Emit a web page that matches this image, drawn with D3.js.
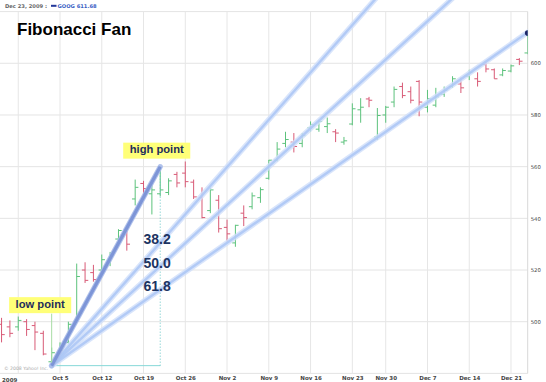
<!DOCTYPE html>
<html><head><meta charset="utf-8">
<script src="https://cdn.jsdelivr.net/npm/d3@7"></script>
<style>
html,body{margin:0;padding:0;background:#fff;}
svg{display:block;}
</style></head>
<body>
<svg id="chart" width="546" height="382"></svg>
<script>
// ---------- data ----------
const dates = ["Sep 24","Sep 25","Sep 28","Sep 29","Sep 30","Oct 1","Oct 2",
 "Oct 5","Oct 6","Oct 7","Oct 8","Oct 9","Oct 12","Oct 13","Oct 14","Oct 15","Oct 16",
 "Oct 19","Oct 20","Oct 21","Oct 22","Oct 23","Oct 26","Oct 27","Oct 28","Oct 29","Oct 30",
 "Nov 2","Nov 3","Nov 4","Nov 5","Nov 6","Nov 9","Nov 10","Nov 11","Nov 12","Nov 13",
 "Nov 16","Nov 17","Nov 18","Nov 19","Nov 20","Nov 23","Nov 24","Nov 25","Nov 27",
 "Nov 30","Dec 1","Dec 2","Dec 3","Dec 4","Dec 7","Dec 8","Dec 9","Dec 10","Dec 11",
 "Dec 14","Dec 15","Dec 16","Dec 17","Dec 18","Dec 21","Dec 22","Dec 23"];
const openP = [499,498,498,500,498.5,495.5,484.5,
 486.5,492,500,520,519,520,523,532,534.5,547.5,
 553.5,549.5,549.5,550,557,557.5,554,548,543,547,
 536.5,530.5,542,544.5,548,555.5,562.5,569,569.5,569,
 575,574.5,575.5,573.5,569.5,576.5,582,586.2,571.5,
 580,585,591,589,593,583,583.8,588,591,592,
 595,594,599.5,597.5,595.5,597,601.5,604];
const highP = [501.5,500.5,502,501,500,496.5,490,
 492,500,522.5,523,522,526,527,535.8,537,555,
 554.5,554,560,555.5,558,562,555,552,551.8,549,
 539.5,537.5,545,550,552,562.6,569.5,573.5,573,573,
 577.5,578,579,574.5,571.5,584.5,586.5,587,582.7,
 583.5,591,592.5,591,593.5,589.7,590.5,591,595,594.5,
 597.5,596.5,600.5,598,598,599.5,602,612.8];
const lowP = [492,494,496.5,494.5,489,487,483,
 485.5,491.5,499.5,515,515.5,519,521.5,530,527.5,545,
 549,541.5,548.5,549,552,552,547.5,540,542,534.5,
 531,529,537,543.5,546,555,562,567.5,565.5,567.5,
 573.5,573.5,573,569.5,568.5,576,577,583,570.3,
 577,583,586.5,584.5,579.5,581,583,587,590.5,588.5,
 593.5,591,596.5,594,595,596.5,599.3,603.5];
const closeP = [495,495.5,500.5,497,496,487.5,488,
 489,499,517.5,516,516.3,524,526,535.3,530,552,
 551.5,551,551,554.5,553.7,554.2,548.3,540.3,551,536,
 534,537.3,540.3,548.7,551.1,562.5,566.8,570.5,567.8,572,
 576.3,577.5,576.6,573,570,582.4,583,585.7,579.8,
 583,589.9,587.5,585.7,585,586.3,587,589.5,594,590.5,
 596.5,593,597.8,594,597.2,599,600.8,611.68];

const gridWeekDates = ["Sep 28","Oct 5","Oct 12","Oct 19","Oct 26","Nov 2","Nov 9","Nov 16","Nov 23","Nov 30","Dec 7","Dec 14","Dec 21"];
const xTickDates = ["Oct 5","Oct 12","Oct 19","Oct 26","Nov 2","Nov 9","Nov 16","Nov 23","Nov 30","Dec 7","Dec 14","Dec 21"];
const yearLabel = "2009";
const yGridValues = [480,500,520,540,560,580,600,620];
const yTickLabels = [500,520,540,560,580,600];
const fibLevels = [38.2, 50.0, 61.8];
const fibLabels = ["38.2","50.0","61.8"];
const lowPoint = {date:"Oct 2", price:483.0, label:"low point"};
const highPoint = {date:"Oct 21", price:560.0, label:"high point"};
const quote = {date:"Dec 23", price:611.68, symbol:"GOOG", header:"Dec 23, 2009 :"};
const title = "Fibonacci Fan";
const copyright = "\u00A9 2008 Yahoo! Inc.";

// ---------- layout ----------
const svg = d3.select("#chart");
const plot = {left:0, right:527.7, top:11.6, bottom:373.4};
const x = d3.scaleLinear().domain([0, dates.length-1]).range([1.55, plot.right]);
const y = d3.scaleLinear().domain([480, 620]).range([plot.bottom, plot.top]);
const idx = d => dates.indexOf(d);

const defs = svg.append("defs");
defs.append("clipPath").attr("id","fanclip").append("rect")
  .attr("x",0).attr("y",0).attr("width",plot.right).attr("height",plot.bottom);
defs.append("clipPath").attr("id","plotclip").append("rect")
  .attr("x",0).attr("y",plot.top).attr("width",plot.right).attr("height",plot.bottom-plot.top);

// grid
const grid = svg.append("g");
grid.selectAll("line.h").data(yGridValues).join("line").attr("class","h")
  .attr("x1",0).attr("x2",plot.right).attr("y1",d=>y(d)).attr("y2",d=>y(d))
  .attr("stroke","#e4e4e4").attr("stroke-width",1);
grid.selectAll("line.v").data(gridWeekDates).join("line").attr("class","v")
  .attr("x1",d=>x(idx(d))).attr("x2",d=>x(idx(d))).attr("y1",plot.top).attr("y2",plot.bottom)
  .attr("stroke","#e6e6e6").attr("stroke-width",1);
grid.append("line").attr("x1",plot.right).attr("x2",plot.right).attr("y1",plot.top).attr("y2",plot.bottom)
  .attr("stroke","#d8d8d8");

// y labels
svg.append("g").attr("transform",`translate(${plot.right+2},0)`)
  .call(d3.axisRight(y).tickValues(yTickLabels).tickSize(0).tickPadding(1).tickFormat(d3.format("d")))
  .call(g=>g.select(".domain").remove())
  .selectAll("text").attr("font-family","Verdana, 'DejaVu Sans', sans-serif").attr("font-size",5.3).attr("fill","#444");

// x labels
svg.append("g").attr("transform",`translate(0,${plot.bottom})`)
  .call(d3.axisBottom(x).tickValues(xTickDates.map(idx)).tickSize(0).tickPadding(3).tickFormat(i=>dates[i]))
  .call(g=>g.select(".domain").remove())
  .selectAll("text").attr("font-family","Verdana, 'DejaVu Sans', sans-serif").attr("font-size",5.5)
  .attr("font-weight","bold").attr("fill","#444");
svg.append("text").attr("x",x(0)+0.5).attr("y",plot.bottom+8.2).text(yearLabel)
  .attr("font-family","Verdana, 'DejaVu Sans', sans-serif").attr("font-size",5.5).attr("font-weight","bold").attr("fill","#444");

// copyright
svg.append("text").attr("x",4).attr("y",plot.bottom-3).text(copyright)
  .attr("font-family","Verdana, 'DejaVu Sans', sans-serif").attr("font-size",4.6).attr("fill","#aaa");

// header
const hdr = svg.append("g").attr("font-family","Verdana, 'DejaVu Sans', sans-serif").attr("font-size",5.2);
hdr.append("text").attr("x",5).attr("y",7.6).text(quote.header).attr("fill","#666").attr("font-weight","bold");
hdr.append("rect").attr("x",51).attr("y",4.8).attr("width",5.5).attr("height",2).attr("fill","#23389a");
hdr.append("text").attr("x",57.5).attr("y",7.6).text(quote.symbol+" "+quote.price.toFixed(2)).attr("fill","#3b5fc4").attr("font-weight","bold");

// title
svg.append("text").attr("x",17).attr("y",35).text(title)
  .attr("font-family","Helvetica, Arial, 'Liberation Sans', sans-serif").attr("font-weight","bold")
  .attr("font-size",17).attr("fill","#000");

// bars
const bars = svg.append("g").attr("clip-path","url(#plotclip)");
const up = "#5cc27c", down = "#d85a76";
const barData = dates.map((d,i)=>({i, o:openP[i], h:highP[i], l:lowP[i], c:closeP[i]}));
const bg = bars.selectAll("g.bar").data(barData).join("g").attr("class","bar")
  .attr("stroke", d=>d.c>=d.o?up:down).attr("stroke-width",1);
bg.append("line").attr("x1",d=>x(d.i)).attr("x2",d=>x(d.i)).attr("y1",d=>y(d.h)).attr("y2",d=>y(d.l));
bg.append("line").attr("x1",d=>x(d.i)-3.2).attr("x2",d=>x(d.i)).attr("y1",d=>y(d.o)).attr("y2",d=>y(d.o));
bg.append("line").attr("x1",d=>x(d.i)).attr("x2",d=>x(d.i)+3.2).attr("y1",d=>y(d.c)).attr("y2",d=>y(d.c));

// fan geometry
const li = idx(lowPoint.date), hi = idx(highPoint.date);
const range = highPoint.price - lowPoint.price;
const endI = dates.length + 10;
const fan = svg.append("g").attr("clip-path","url(#fanclip)");

// helper lines
fan.append("line").attr("x1",x(li)).attr("x2",x(hi)).attr("y1",y(lowPoint.price)).attr("y2",y(lowPoint.price))
  .attr("stroke","#86d8d8").attr("stroke-width",1);
fan.append("line").attr("x1",x(hi)).attr("x2",x(hi)).attr("y1",y(highPoint.price)).attr("y2",y(lowPoint.price))
  .attr("stroke","#62c4c4").attr("stroke-width",1).attr("stroke-dasharray","1,2");

const fanLines = fibLevels.map(L=>{
  const p = highPoint.price - L/100*range;
  const slope = (p - lowPoint.price)/(hi - li);
  return {L, p, x1:x(li), y1:y(lowPoint.price), x2:x(endI), y2:y(lowPoint.price + slope*(endI-li))};
});
fan.selectAll("line.fo").data(fanLines).join("line").attr("class","fo")
  .attr("x1",d=>d.x1).attr("y1",d=>d.y1).attr("x2",d=>d.x2).attr("y2",d=>d.y2)
  .attr("stroke","#cfdffa").attr("stroke-width",5.5).attr("stroke-opacity",0.8).attr("stroke-linecap","round");
fan.selectAll("line.fi").data(fanLines).join("line").attr("class","fi")
  .attr("x1",d=>d.x1).attr("y1",d=>d.y1).attr("x2",d=>d.x2).attr("y2",d=>d.y2)
  .attr("stroke","#aac5f4").attr("stroke-width",2.4).attr("stroke-opacity",0.85);

// main trend line
fan.append("line").attr("x1",x(li)).attr("y1",y(lowPoint.price)).attr("x2",x(hi)).attr("y2",y(highPoint.price))
  .attr("stroke","#a9bbe9").attr("stroke-width",5.2).attr("stroke-linecap","round").attr("stroke-opacity",0.9);
fan.append("line").attr("x1",x(li)).attr("y1",y(lowPoint.price)).attr("x2",x(hi)).attr("y2",y(highPoint.price))
  .attr("stroke","#7a92d6").attr("stroke-width",3.2).attr("stroke-opacity",0.95);

// fib labels
svg.selectAll("text.fib").data(fanLines).join("text").attr("class","fib")
  .attr("x",x(hi)-16.7).attr("y",d=>y(d.p)+1.5).text((d,i)=>fibLabels[i])
  .attr("font-family","Helvetica, Arial, 'Liberation Sans', sans-serif").attr("font-weight","bold")
  .attr("font-size",14).attr("fill","#1c3462");

// point labels
function callout(pt, cx, baseY){
  const g = svg.append("g");
  const t = g.append("text").attr("x",cx).attr("y",baseY).text(pt.label).attr("text-anchor","middle")
    .attr("font-family","Helvetica, Arial, 'Liberation Sans', sans-serif").attr("font-weight","bold")
    .attr("font-size",11.2).attr("fill","#1e2d5c");
  const w = t.node().getComputedTextLength();
  g.insert("rect","text").attr("x",cx-w/2-6.5).attr("y",baseY-10.5).attr("width",w+13).attr("height",16)
    .attr("fill","#ffff78");
}
// low point connector
svg.append("line").attr("x1",x(li)).attr("x2",x(li)).attr("y1",y(lowPoint.price)-3).attr("y2",y(lowPoint.price)-52)
  .attr("stroke","#a8dca4").attr("stroke-width",1);
callout(highPoint, x(hi)-3.5, y(highPoint.price)-13.5);
callout(lowPoint, x(li)-11.5, y(lowPoint.price)-58);

// last quote dot
svg.append("g").attr("clip-path","url(#fanclip)").append("circle")
  .attr("cx",x(idx(quote.date))).attr("cy",y(quote.price)).attr("r",2.8).attr("fill","#1a2466");
</script>
</body></html>
